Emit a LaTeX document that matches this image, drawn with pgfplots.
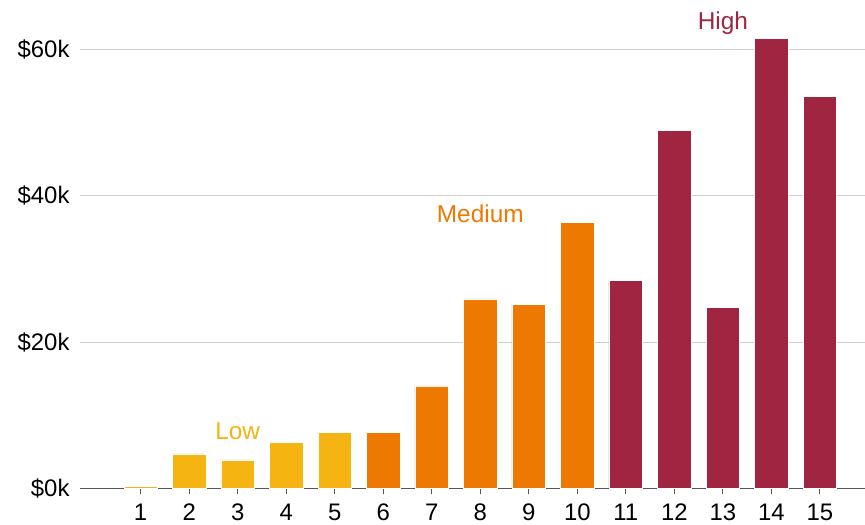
\documentclass[border=0pt]{standalone}
\usepackage{pgfplots}
\pgfplotsset{compat=1.18}
\usepackage{fontspec}
\setmainfont{Liberation Sans}
\definecolor{lowc}{HTML}{F5B412}
\definecolor{medc}{HTML}{EE7900}
\definecolor{highc}{HTML}{A02541}
\definecolor{gridc}{HTML}{CFCFD3}
\definecolor{axc}{HTML}{555555}
\begin{document}
\begin{tikzpicture}
\begin{axis}[
  name=ax,
  scale only axis,
  width=785bp, height=488.3bp,
  xmin=-0.25, xmax=15.93,
  ymin=0, ymax=66.8,
  axis x line=bottom,
  axis y line=left,
  x axis line style={-, draw=axc, line width=1bp},
  y axis line style={draw=none},
  xtick={1,...,15},
  ytick={0,20,40,60},
  yticklabels={\$0k,\$20k,\$40k,\$60k},
  tick align=outside,
  major tick length=6bp,
  ytick style={draw=none},
  xtick style={draw=axc, line width=1bp},
  ymajorgrids,
  grid style={gridc, line width=1bp},
  tick label style={font=\fontsize{24}{28}\selectfont, text=black},
  xticklabel style={yshift=-6bp},
  yticklabel style={xshift=-1bp},
  /pgf/number format/assume math mode=true,
  ybar, bar width=33.7bp, bar shift=0pt,
  clip=false,
  axis on top=false,
]
\addplot[fill=lowc, draw=white, line width=0.5bp] coordinates {(1,0.3) (2,4.7) (3,3.9) (4,6.3) (5,7.6)};
\addplot[fill=medc, draw=white, line width=0.5bp] coordinates {(6,7.7) (7,14.0) (8,25.9) (9,25.2) (10,36.4)};
\addplot[fill=highc, draw=white, line width=0.5bp] coordinates {(11,28.4) (12,49.0) (13,24.8) (14,61.6) (15,53.6)};
\node[text=lowc, font=\fontsize{24.5}{28}\selectfont] at (axis cs:3,7.8) {Low};
\node[text=medc, font=\fontsize{24.5}{28}\selectfont] at (axis cs:8,37.5) {Medium};
\node[text=highc, font=\fontsize{24.5}{28}\selectfont] at (axis cs:13,63.6) {High};
\end{axis}
\pgfresetboundingbox
\useasboundingbox ([xshift=-80bp,yshift=-36.7bp]ax.south west) rectangle (ax.north east);
\end{tikzpicture}
\end{document}
